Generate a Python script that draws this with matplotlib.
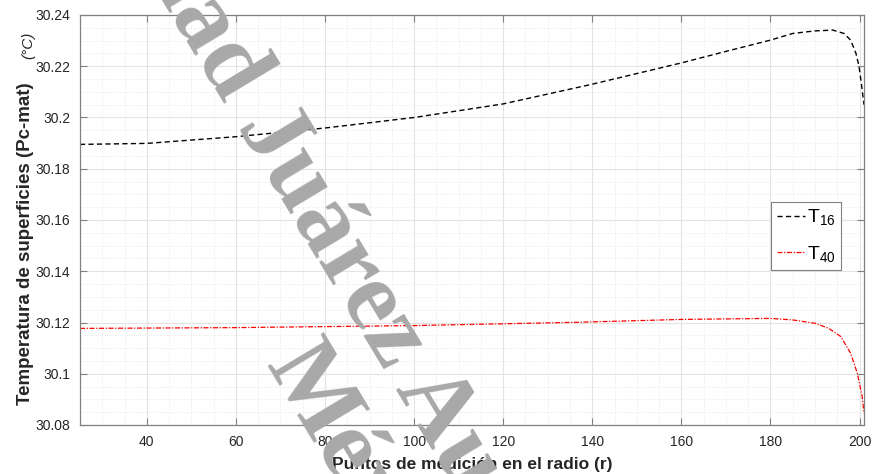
import numpy as np
from matplotlib import pyplot as plt
from matplotlib.ticker import MultipleLocator, FormatStrFormatter

plt.rcParams['font.family'] = ['Liberation Sans', 'DejaVu Sans']
plt.rcParams['mathtext.default'] = 'regular'

# ---------------- data
r16 = [25, 40, 60, 80, 100, 120, 140, 160, 170, 180, 185, 190, 194, 196.5, 198, 199.2, 199.9, 200.4, 201]
t16 = [30.1895, 30.1899, 30.1925, 30.1959, 30.2000, 30.2053, 30.2130, 30.2213, 30.2258, 30.2302,
       30.2328, 30.2338, 30.2341, 30.2328, 30.2302, 30.2250, 30.2198, 30.2133, 30.2050]

r40 = [25, 60, 100, 137, 160, 180, 185, 190, 193, 195.8, 198, 199.5, 200.6, 201]
t40 = [30.1177, 30.1180, 30.1188, 30.1201, 30.1212, 30.1216, 30.1210, 30.1197, 30.1178,
       30.1145, 30.1080, 30.1002, 30.0910, 30.0846]

labels = ['T$_{16}$', 'T$_{40}$']
xlabel = 'Puntos de medición en el radio (r)'
ylabel = 'Temperatura de superficies (Pc-mat)'
yunit = '(°C)'
wm1 = 'Universidad Juárez Autónoma de Tabasco'
wm2 = 'México'

fig = plt.figure(figsize=(8.72, 4.74), dpi=100)
ax = fig.add_axes([80/872, 49/474, 784/872, 410/474])

ax.plot(r16, t16, color='k', lw=1.0, dashes=(3.7, 2.4), label=labels[0])
ax.plot(r40, t40, color='r', lw=0.9, dashes=(4, 1.3, 1, 1.3), label=labels[1])

ax.set_xlim(25, 201)
ax.set_ylim(30.08, 30.24)
ax.xaxis.set_major_locator(MultipleLocator(20))
ax.xaxis.set_minor_locator(MultipleLocator(5))
ax.yaxis.set_major_locator(MultipleLocator(0.02))
ax.yaxis.set_minor_locator(MultipleLocator(0.005))
ax.yaxis.set_major_formatter(FormatStrFormatter('%g'))
ax.set_xticks([40, 60, 80, 100, 120, 140, 160, 180, 200])

ax.grid(which='major', color='#e3e3e3', lw=0.8, ls='-')
ax.grid(which='minor', color='#e3e3e3', lw=0.6, ls=':')
ax.set_axisbelow(True)
ax.tick_params(which='major', direction='in', length=5, width=0.8, color='#808080',
               top=True, right=True, labelsize=10, labelcolor='#262626', pad=7)
ax.tick_params(which='minor', length=0, top=True, right=True)
for s in ax.spines.values():
    s.set_color('#808080')
    s.set_linewidth(0.9)

leg = ax.legend(loc='upper left', bbox_to_anchor=(0.881, 0.545), fontsize=14,
                handlelength=1.45, handletextpad=0.1, borderpad=0.3, labelspacing=0.85,
                fancybox=False, framealpha=1, edgecolor='#808080', borderaxespad=0)
leg.get_frame().set_linewidth(0.8)

fig.text(472/872, 10/474, xlabel, ha='center', va='center', fontsize=12.5,
         fontweight='bold', color='#262626')
fig.text(26/872, (474-244)/474, ylabel, ha='center', va='center', rotation=90,
         fontsize=13.5, fontweight='bold', color='#262626')
fig.text(28/872, (474-45)/474, yunit, ha='center', va='center', rotation=90,
         fontsize=11, style='italic', color='#262626')

# watermark
fig.text(418/872, 46.7/474, wm1, ha='center', va='baseline', rotation=-59,
         rotation_mode='anchor', fontsize=72, fontweight='bold',
         family='Liberation Serif', color='#a8a8a8')
fig.text(345/872, -23.6/474, wm2, ha='center', va='baseline', rotation=-59,
         rotation_mode='anchor', fontsize=72, fontweight='bold',
         family='Liberation Serif', color='#a8a8a8')

fig.savefig('out.png', dpi=100)
